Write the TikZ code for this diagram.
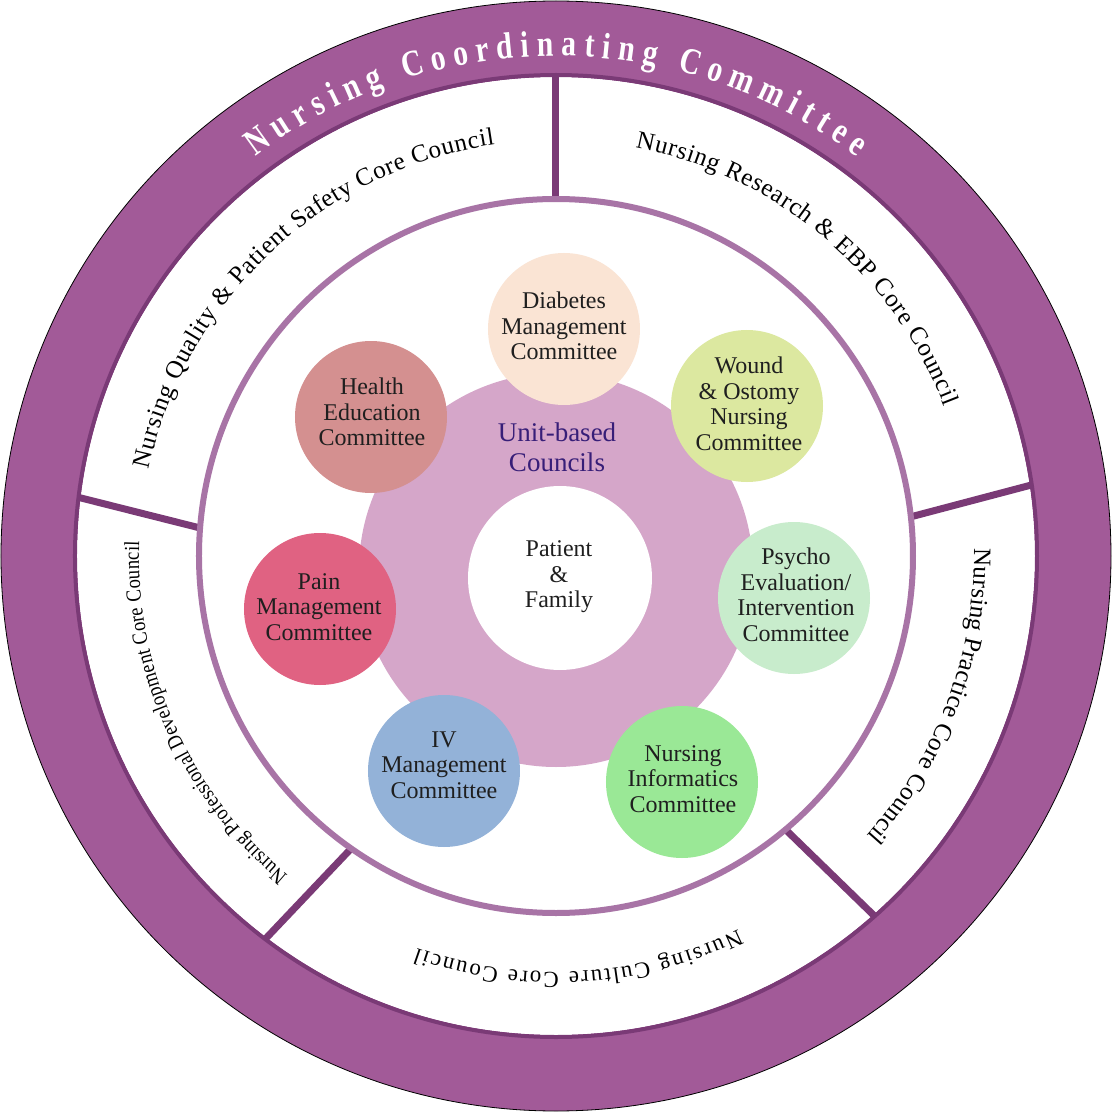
\documentclass[tikz,border=0pt]{standalone}
\usepackage{fontspec}
\setmainfont{Liberation Serif}
\newfontfamily\titlefont[FakeStretch=0.8]{Liberation Serif}
\newfontfamily\condfont[FakeStretch=0.86]{Liberation Serif}
\usetikzlibrary{decorations.text}
\definecolor{ringpurple}{RGB}{162,90,152}
\definecolor{darkpurple}{RGB}{122,58,118}
\definecolor{linepurple}{RGB}{168,116,166}
\definecolor{pinkdisk}{RGB}{213,166,201}
\definecolor{indigotext}{RGB}{55,30,120}
\definecolor{cdiab}{RGB}{250,228,212}
\definecolor{cwound}{RGB}{220,232,160}
\definecolor{chealth}{RGB}{212,144,144}
\definecolor{cpain}{RGB}{224,98,130}
\definecolor{civ}{RGB}{147,178,216}
\definecolor{cinfo}{RGB}{154,232,150}
\definecolor{cpsy}{RGB}{200,236,204}
\newcommand\ttlfmt{\titlefont\bfseries\fontsize{37}{40}\selectfont}
\newcommand\secfmt{\fontsize{25}{28}\selectfont}
\newcommand\botfmt{\fontsize{23}{26}\selectfont}
\newcommand\lftfmt{\condfont\fontsize{21.5}{26}\selectfont}
\begin{document}
\begin{tikzpicture}[x=1pt,y=1pt,
  divider/.style={draw=darkpurple, line width=7},
  cmt/.style={circle, minimum size=152, inner sep=0, draw=none},
  ctext/.style={align=center, font=\fontsize{24}{25.5}\selectfont, text=black!88, inner sep=0}]
\useasboundingbox (-556,-556) rectangle (556,556);
\fill[white] (-556,-556) rectangle (556,556);
% outer ring
\filldraw[fill=ringpurple, draw=black, line width=0.8] (0,0) circle[radius=555];
\fill[white] (0,0) circle[radius=479];
\draw[darkpurple, line width=4] (0,0) circle[radius=481];
% dividers
\coordinate (d1i) at (90:357);   \coordinate (d1o) at (90:481);
\coordinate (d2i) at (6.3:357);  \coordinate (d2o) at (8.5:481);
\coordinate (d3i) at (175.5:357);\coordinate (d3o) at (173:481);
\coordinate (d4i) at (235:357);  \coordinate (d4o) at (232.8:481);
\coordinate (d5i) at (-50:357);  \coordinate (d5o) at (-48.5:481);
\draw[divider] (d1i) -- (d1o);
\draw[divider] (d2i) -- (d2o);
\draw[divider] (d3i) -- (d3o);
\draw[divider] (d4i) -- (d4o);
\draw[divider] (d5i) -- (d5o);
% inner circle
\draw[linepurple, line width=6] (0,0) circle[radius=357];
% title
\path[decorate, decoration={text along path, text align={fit to path}, text color=white,
  text={|\ttlfmt|Nursing Coordinating Committee}}]
  (127:500) arc[start angle=127, end angle=53, radius=500];
% sector texts
\path[decorate, decoration={text along path, text align={fit to path},
  text={|\secfmt|Nursing Quality {\&} Patient Safety Core Council}}]
  (168:416) arc[start angle=168, end angle=98.5, radius=416];
\path[decorate, decoration={text along path, text align={fit to path},
  text={|\secfmt|Nursing Research {\&} EBP Core Council}}]
  (79:416) arc[start angle=79, end angle=21, radius=416];
\path[decorate, decoration={text along path, text align={fit to path},
  text={|\secfmt|Nursing Practice Core Council}}]
  (1:418) arc[start angle=1, end angle=-42, radius=418];
\path[decorate, decoration={text along path, text align={fit to path},
  text={|\botfmt|Nursing Culture Core Council}}]
  (-64:416) arc[start angle=-64, end angle=-109.5, radius=416];
\path[decorate, decoration={text along path, text align={fit to path},
  text={|\lftfmt|Nursing Professional Development Core Council}}]
  (230:417) arc[start angle=230, end angle=178, radius=417];
% unit-based councils
\node[circle, fill=pinkdisk, minimum size=394, inner sep=0] (ubc) at (0,-14) {};
\node[circle, fill=white, minimum size=184, inner sep=0] (pf) at (4,-22) {};
\node[align=center, font=\fontsize{27}{30}\selectfont, text=indigotext, inner sep=0] (ubct) at (1,109) {Unit-based\\Councils};
\node[ctext] (pft) at (3,-21) {Patient\\\&\\Family};
% committees
\node[cmt, fill=cdiab] (diab) at (8,227) {};
\node[ctext] (diabt) at (8,230) {Diabetes\\Management\\Committee};
\node[cmt, fill=cwound] (wound) at (191,150) {};
\node[ctext] (woundt) at (193,152) {Wound\\\& Ostomy\\Nursing\\Committee};
\node[cmt, fill=chealth] (health) at (-185,139) {};
\node[ctext] (healtht) at (-184,144) {Health\\Education\\Committee};
\node[cmt, fill=cpain] (pain) at (-236,-53) {};
\node[ctext] (paint) at (-237,-51) {Pain\\Management\\Committee};
\node[cmt, fill=civ] (iv) at (-112,-215) {};
\node[ctext] (ivt) at (-112,-209) {IV\\Management\\Committee};
\node[cmt, fill=cinfo] (info) at (126,-226) {};
\node[ctext] (infot) at (127,-223) {Nursing\\Informatics\\Committee};
\node[cmt, fill=cpsy] (psy) at (238,-42) {};
\node[ctext] (psyt) at (240,-39) {Psycho\\Evaluation/\\Intervention\\Committee};
\end{tikzpicture}
\end{document}
